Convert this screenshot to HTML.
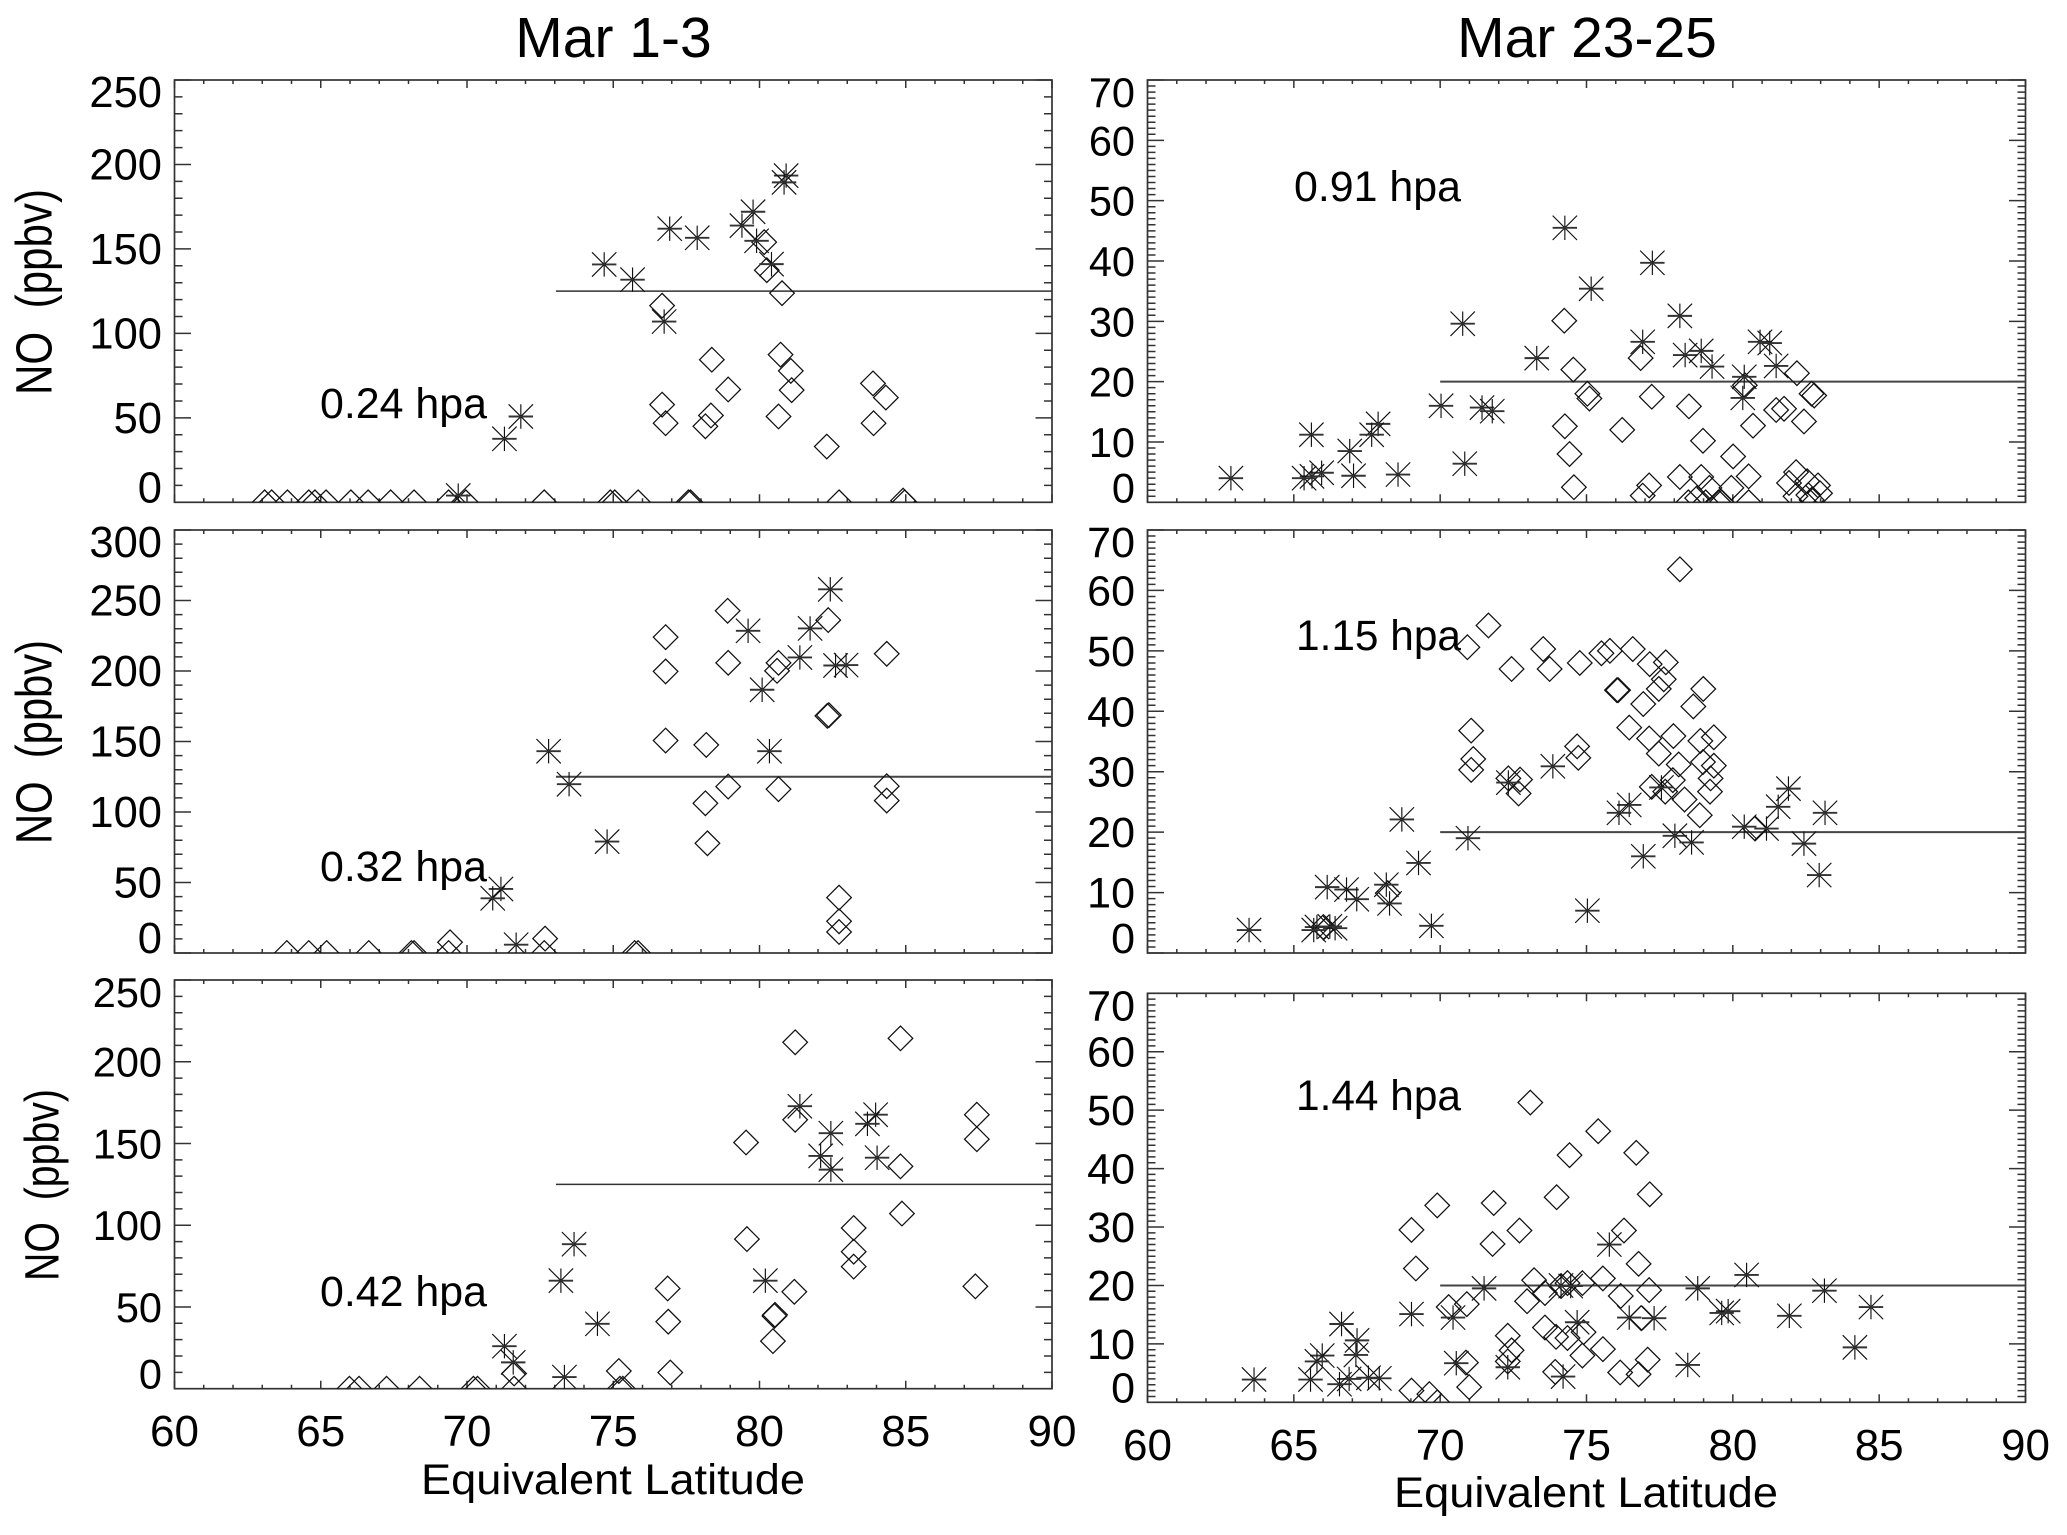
<!DOCTYPE html>
<html lang="en">
<head>
<meta charset="utf-8">
<title>NO vs Equivalent Latitude</title>
<style>
html,body{margin:0;padding:0;background:#fff;}
svg{display:block;filter:blur(0.3px);}
text{font-family:"Liberation Sans",sans-serif;fill:#000;}
</style>
</head>
<body>
<svg id="chart" xmlns="http://www.w3.org/2000/svg" width="2067" height="1535" viewBox="0 0 2067 1535">
<rect x="0" y="0" width="2067" height="1535" fill="#fff"/>
<text x="613.5" y="57" font-size="57" text-anchor="middle">Mar 1-3</text>
<text x="1587" y="57" font-size="57" text-anchor="middle">Mar 23-25</text>
<text transform="translate(51.7 395) rotate(-90)" font-size="51" textLength="206" lengthAdjust="spacingAndGlyphs">NO&#160; (ppbv)</text>
<text transform="translate(51.7 844) rotate(-90)" font-size="51" textLength="204" lengthAdjust="spacingAndGlyphs">NO&#160; (ppbv)</text>
<text transform="translate(58.5 1281) rotate(-90)" font-size="48" textLength="192" lengthAdjust="spacingAndGlyphs">NO&#160; (ppbv)</text>
<text x="421" y="1494" font-size="43" textLength="384" lengthAdjust="spacingAndGlyphs">Equivalent Latitude</text>
<text x="1394" y="1507" font-size="43" textLength="384" lengthAdjust="spacingAndGlyphs">Equivalent Latitude</text>
<text x="320" y="418" font-size="42.5" textLength="167" lengthAdjust="spacingAndGlyphs">0.24 hpa</text>
<text x="320" y="881" font-size="42.5" textLength="167" lengthAdjust="spacingAndGlyphs">0.32 hpa</text>
<text x="320" y="1306" font-size="42.5" textLength="167" lengthAdjust="spacingAndGlyphs">0.42 hpa</text>
<text x="1294" y="201" font-size="42.5" textLength="167" lengthAdjust="spacingAndGlyphs">0.91 hpa</text>
<text x="1296" y="650" font-size="42.5" textLength="165" lengthAdjust="spacingAndGlyphs">1.15 hpa</text>
<text x="1296" y="1110" font-size="42.5" textLength="165" lengthAdjust="spacingAndGlyphs">1.44 hpa</text>
</svg>
<script>
// Shared axis values
const xTickLabels = [60, 65, 70, 75, 80, 85, 90];
const yLabelsMar1 = [0, 50, 100, 150, 200, 250];
const yLabelsMar1Mid = [0, 50, 100, 150, 200, 250, 300];
const yLabelsMar23 = [0, 10, 20, 30, 40, 50, 60, 70];

// Reference-line levels [start latitude, NO]
const refLineTop = [73.04, 125];
const refLineMid = [73.04, 125];
const refLineBottom = [73.04, 125];
const refLineRight = [70, 20];

// Each pair is [equivalent latitude, NO ppbv]
const p024Diamonds = [[80.16,154],[80.25,137.4],[80.77,123.8],[76.67,116.4],[78.37,84.4],[80.72,87.4],[81.07,77.8],[81.1,66.4],[78.93,66.8],[83.88,70.4],[84.32,62],[76.67,57.8],[76.79,46.8],[78.34,51.4],[78.15,45],[80.65,50.8],[83.9,46.8],[82.3,33],[63.08,0],[63.32,0],[63.86,0],[64.59,0],[64.8,0],[65.18,0],[66.03,0],[66.62,0],[67.39,0],[68.19,0],[69.37,0],[69.96,0],[72.64,0],[74.9,0],[75.05,0],[75.85,0],[77.57,0],[77.64,0],[82.72,0],[84.91,1],[84.96,0]];
const p024Stars = [[80.91,193.4],[80.84,189.4],[79.78,172],[79.4,163.8],[76.93,162],[77.87,156.6],[79.9,154.8],[74.69,140.8],[80.41,141],[75.66,131.8],[76.74,107],[71.84,50.8],[71.28,37.6],[69.7,4]];

const p032Diamonds = [[78.91,242.7],[76.79,224],[82.35,236.1],[84.35,212.2],[78.93,205.8],[76.79,199.7],[80.65,205.8],[80.6,200.1],[82.32,168.2],[82.37,168.7],[76.79,150.7],[78.18,147.6],[78.93,118],[80.65,116.2],[84.35,118.3],[84.35,108.1],[78.15,106.2],[78.22,77.8],[82.72,39.3],[82.72,22.5],[82.72,14.9],[72.67,10.2],[69.42,7.6],[63.84,0],[64.59,0],[65.2,0],[66.64,0],[68.1,0],[68.19,0],[69.37,0],[72.64,0],[75.73,0],[75.85,0]];
const p032Stars = [[82.42,257.9],[79.61,228.5],[81.73,230.2],[81.38,209.6],[82.6,203.9],[82.96,204.2],[80.09,186.7],[72.79,143.1],[80.34,143.1],[73.49,119.7],[74.79,79],[71.16,45.4],[70.88,38.8],[71.68,5.9]];

const p042Diamonds = [[81.22,211.9],[84.82,214.3],[81.22,164.5],[79.54,150.6],[87.43,167.6],[87.43,152.6],[84.82,136],[84.87,107.1],[83.22,98.3],[79.57,91.5],[83.22,83.8],[83.22,74.7],[76.86,61.3],[87.38,62.6],[81.19,59.3],[80.53,45.2],[80.51,44.5],[76.88,41],[80.46,29.1],[71.61,9.3],[75.19,10.8],[76.95,9.9],[65.98,0],[66.31,0],[67.25,0],[68.38,0],[70.22,0],[70.36,0],[71.61,0],[75.23,0],[75.33,0]];
const p042Stars = [[81.38,172.8],[83.97,167.6],[83.69,162],[82.44,156.3],[82.09,142.4],[84.02,141.3],[82.44,134],[73.66,88.4],[73.21,66.1],[80.2,66.1],[74.46,39.7],[71.28,26],[71.58,16.1],[73.33,7.1]];

const p091Diamonds = [[74.24,30.1],[74.55,22],[75.03,18],[75.1,17.2],[76.85,23.9],[77.23,17.5],[78.5,15.9],[76.22,12],[74.26,12.6],[74.42,8],[74.57,2.5],[78.98,10.2],[80.01,7.6],[80.41,19.4],[80.69,12.7],[81.48,15.3],[81.75,15.5],[82.43,13.4],[82.19,21.4],[82.69,18],[82.78,17.7],[77.14,2.8],[76.92,1.1],[78.19,4.2],[78.92,4.2],[79.2,2.4],[79.95,2.4],[80.54,4.3],[82.16,5],[81.92,3.2],[82.54,3.5],[82.91,2.8],[82.98,1.5],[82.14,1],[82.58,1.2],[78.48,0],[78.78,0.7],[79.07,0],[79.51,0],[79.62,0],[80.54,0],[82.69,0.4]];
const p091Stars = [[74.26,45.5],[77.25,39.7],[75.16,35.4],[78.19,30.9],[70.77,29.6],[73.3,23.9],[76.92,26.6],[78.37,24.4],[78.92,25.1],[79.29,22.5],[80.39,20.8],[80.34,17.3],[80.93,26.6],[81.26,26.4],[81.48,22.6],[70.03,16],[71.43,15.7],[71.78,15.1],[67.88,13],[67.66,11.2],[65.6,11.2],[66.91,8.5],[70.84,6.4],[68.56,4.6],[67.04,4.4],[65.95,4.9],[65.62,4.3],[65.35,4],[62.85,4]];

const p115Diamonds = [[78.19,63.5],[71.65,54.2],[70.93,50.6],[72.44,47],[73.52,50.3],[73.74,47],[74.77,48],[75.51,49.6],[75.8,50],[76.58,50.3],[77.16,47.8],[77.71,48.1],[77.64,45.3],[77.47,43.7],[76.04,43.5],[76.08,43.5],[78.99,43.7],[76.94,41.2],[78.65,40.8],[71.06,36.8],[76.46,37.3],[77.14,35.5],[77.97,35.9],[78.89,35.1],[79.35,35.7],[74.68,34.2],[74.72,32.3],[77.47,33],[71.13,32.1],[71.06,30.3],[78.15,31.2],[78.98,31.6],[79.35,31],[79.24,28.9],[72.33,28.9],[72.73,28.7],[72.68,26.4],[77.95,28.6],[77.23,27.5],[77.69,26.7],[79.22,26.7],[78.35,25.4],[78.87,22.8],[80.76,20.6],[68.21,9.9],[66.01,4.3]];
const p115Stars = [[73.85,30.9],[72.33,28.2],[77.56,27.4],[81.9,27.2],[76.46,24.5],[81.55,24.2],[76.11,23.2],[83.15,23.2],[68.69,22.1],[80.39,20.9],[81.15,20.6],[70.95,19],[78.02,19.4],[78.59,18.3],[82.43,18.1],[76.94,16],[69.26,14.9],[82.95,12.9],[68.16,11.3],[66.14,10.9],[66.8,10.5],[67.15,8.9],[68.27,8.2],[75.03,7],[69.7,4.5],[65.79,4.3],[66.41,4.1],[65.68,3.8],[63.47,3.8],[66.23,4.4]];

const p144Diamonds = [[73.08,51.3],[75.4,46.4],[74.42,42.3],[76.7,42.7],[73.98,35.1],[77.16,35.6],[69.9,33.7],[71.83,34.1],[69.02,29.5],[72.71,29.4],[76.28,29.4],[71.79,27.1],[69.17,22.9],[76.78,23.7],[73.21,20.9],[73.58,18.7],[72.97,17.3],[74.35,20.4],[74.13,19.9],[74.86,20.4],[75.56,21.2],[76.17,18.2],[77.14,19.2],[70.91,16.8],[70.29,16.3],[76.87,14.4],[73.58,12.8],[73.96,11.2],[74.35,11],[74.9,12],[72.31,11.4],[72.44,8.9],[72.31,7],[75.56,9.1],[74.86,8],[77.09,7.3],[70.88,6.8],[73.93,5.2],[76.15,5.1],[76.78,4.8],[70.99,2.6],[69.02,2],[69.63,1.4],[69.9,0]];
const p144Stars = [[75.78,27],[80.47,21.8],[71.5,19.5],[78.8,19.5],[83.13,19.1],[74.13,20],[74.46,19.9],[69.02,15.1],[84.72,16.3],[79.84,15.6],[79.62,15.3],[81.93,14.8],[70.44,14.5],[76.46,14.5],[77.31,14.4],[66.63,13.4],[74.68,13.7],[67.16,10.6],[65.97,8],[67.12,8.1],[65.79,7],[84.17,9.4],[70.55,6.7],[72.31,6],[78.46,6.4],[74.2,4.4],[63.64,3.9],[65.57,3.9],[66.89,4],[67.55,4.2],[67.92,4.1],[66.56,3.1]];

const SVGNS = 'http://www.w3.org/2000/svg';
const chart = document.getElementById('chart');
const defs = document.createElementNS(SVGNS, 'defs');
chart.appendChild(defs);

function make(tag, attrs, parent) {
  const el = document.createElementNS(SVGNS, tag);
  for (const k in attrs) el.setAttribute(k, attrs[k]);
  parent.appendChild(el);
  return el;
}

function drawPanel(p) {
  const W = p.right - p.left, H = p.bottom - p.top;
  const xScale = v => p.left + (v - 60) / 30 * W;
  const yScale = v => p.bottom - v / p.yMax * H;

  const g = make('g', {}, chart);
  
  

  const clipId = 'clip-' + p.id;
  const clip = make('clipPath', {id: clipId}, defs);
  make('rect', {x: p.left, y: p.top, width: W, height: H}, clip);

  // Ticks
  let d = '';
  for (let v = 60; v <= 90; v += 1) {
    const len = v % 5 === 0 ? 8 : 4;
    const x = xScale(v);
    d += 'M' + x + ' ' + p.bottom + 'v' + (-len) + 'M' + x + ' ' + p.top + 'v' + len;
  }
  for (let v = 0; v <= p.yMax; v += p.yMinor) {
    const len = v % p.yMajor === 0 ? 16.5 : 8;
    const y = yScale(v);
    d += 'M' + p.left + ' ' + y + 'h' + len + 'M' + p.right + ' ' + y + 'h' + (-len);
  }
  const ticks = make('path', {d: d, fill: 'none', stroke: '#333', 'stroke-width': 1.5}, g);
  
  

  const frame = make('rect', {x: p.left, y: p.top, width: W, height: H, fill: 'none', stroke: '#333', 'stroke-width': 1.7}, g);
  
  

  // Y tick labels
  p.yLabels.forEach(v => {
    const base = Math.min(p.bottom, Math.max(p.top + 27, yScale(v) + 15));
    const t = make('text', {x: p.labelX, y: base, 'font-size': p.labelSize, 'text-anchor': 'end'}, g);
    
    
    t.textContent = v;
  });

  // X tick labels (bottom row only)
  if (p.xLabelY) {
    xTickLabels.forEach(v => {
      const t = make('text', {x: xScale(v), y: p.xLabelY, 'font-size': 44, 'text-anchor': 'middle'}, g);
      
      
      t.textContent = v;
    });
  }

  // Reference line
  const line = make('line', {x1: xScale(p.refLine[0]), x2: p.right, y1: yScale(p.refLine[1]), y2: yScale(p.refLine[1]), stroke: p.refColor, 'stroke-width': p.refWidth}, g);
  
  

  const marks = make('g', {'clip-path': 'url(#' + clipId + ')'}, g);
  
  

  // Diamonds
  const R = 12.3;
  p.diamonds.forEach(pt => {
    const x = xScale(pt[0]), y = yScale(pt[1]);
    const m = make('path', {d: 'M' + x + ' ' + (y - R) + 'L' + (x + R) + ' ' + y + 'L' + x + ' ' + (y + R) + 'L' + (x - R) + ' ' + y + 'Z', fill: 'none', stroke: '#111', 'stroke-width': 1.25}, marks);
    
    
  });

  // Asterisks
  const S = 12.2;
  p.stars.forEach(pt => {
    const x = xScale(pt[0]), y = yScale(pt[1]);
    const m = make('g', {fill: 'none', stroke: '#111'}, marks);
    
    
    make('path', {d: 'M' + x + ' ' + (y - S) + 'V' + (y + S) + 'M' + (x - S) + ' ' + (y - S) + 'L' + (x + S) + ' ' + (y + S) + 'M' + (x + S) + ' ' + (y - S) + 'L' + (x - S) + ' ' + (y + S), 'stroke-width': 1.15}, m);
    make('path', {d: 'M' + (x - S) + ' ' + y + 'H' + (x + S), 'stroke-width': 1.9, stroke: '#333'}, m);
  });
}

drawPanel({id:'mar1-024', left:174.5, right:1052, top:80, bottom:502.3, yMax:250, yMinor:10, yMajor:50, labelX:162, labelSize:43.5, yLabels:yLabelsMar1, refLine:refLineTop, refColor:'#333', refWidth:1.5, diamonds:p024Diamonds, stars:p024Stars});
drawPanel({id:'mar1-032', left:174.5, right:1052, top:530, bottom:953, yMax:300, yMinor:10, yMajor:50, labelX:162, labelSize:43.5, yLabels:yLabelsMar1Mid, refLine:refLineMid, refColor:'#444', refWidth:1.9, diamonds:p032Diamonds, stars:p032Stars});
drawPanel({id:'mar1-042', left:174.5, right:1052, top:980, bottom:1388.7, yMax:250, yMinor:10, yMajor:50, labelX:162, labelSize:41.5, yLabels:yLabelsMar1, xLabelY:1446, refLine:refLineBottom, refColor:'#333', refWidth:1.5, diamonds:p042Diamonds, stars:p042Stars});
drawPanel({id:'mar23-091', left:1147.5, right:2025.5, top:80, bottom:502.3, yMax:70, yMinor:1, yMajor:10, labelX:1135, labelSize:41.5, yLabels:yLabelsMar23, refLine:refLineRight, refColor:'#444', refWidth:2, diamonds:p091Diamonds, stars:p091Stars});
drawPanel({id:'mar23-115', left:1147.5, right:2025.5, top:530, bottom:953, yMax:70, yMinor:1, yMajor:10, labelX:1135, labelSize:43, yLabels:yLabelsMar23, refLine:refLineRight, refColor:'#444', refWidth:2, diamonds:p115Diamonds, stars:p115Stars});
drawPanel({id:'mar23-144', left:1147.5, right:2025.5, top:993.3, bottom:1402.3, yMax:70, yMinor:1, yMajor:10, labelX:1135, labelSize:43, yLabels:yLabelsMar23, xLabelY:1460, refLine:refLineRight, refColor:'#444', refWidth:2, diamonds:p144Diamonds, stars:p144Stars});
</script>
</body>
</html>
